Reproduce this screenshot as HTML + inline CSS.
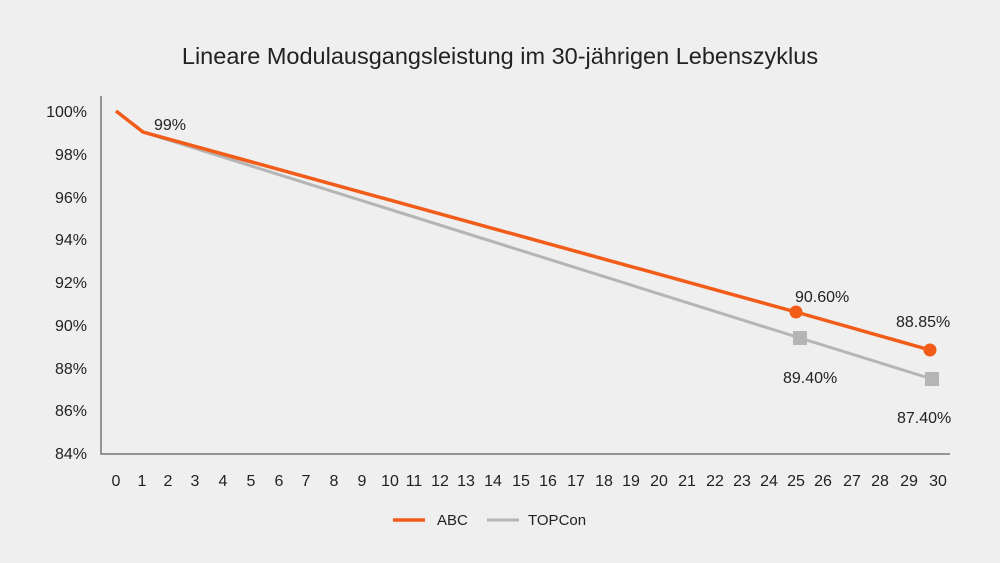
<!DOCTYPE html>
<html><head><meta charset="utf-8"><style>
html,body{margin:0;padding:0;background:#efefef;}
svg{display:block;font-family:"Liberation Sans",sans-serif;}
</style></head><body>
<svg width="1000" height="563" viewBox="0 0 1000 563">
<rect width="1000" height="563" fill="#efefef"/>
<text x="500" y="64" text-anchor="middle" font-size="23.5" fill="#222">Lineare Modulausgangsleistung im 30-jährigen Lebenszyklus</text>
<g font-size="16" fill="#222" text-anchor="end">
<text x="87" y="117">100%</text>
<text x="87" y="160">98%</text>
<text x="87" y="203">96%</text>
<text x="87" y="245">94%</text>
<text x="87" y="288">92%</text>
<text x="87" y="331">90%</text>
<text x="87" y="374">88%</text>
<text x="87" y="416">86%</text>
<text x="87" y="459">84%</text>
</g>
<polyline points="101,96 101,454 950,454" fill="none" stroke="#777" stroke-width="1.5"/>
<g font-size="16" fill="#222" text-anchor="middle">
<text x="116" y="486">0</text><text x="142" y="486">1</text><text x="168" y="486">2</text><text x="195" y="486">3</text><text x="223" y="486">4</text><text x="251" y="486">5</text><text x="279" y="486">6</text><text x="306" y="486">7</text><text x="334" y="486">8</text><text x="362" y="486">9</text><text x="390" y="486">10</text><text x="414" y="486">11</text><text x="440" y="486">12</text><text x="466" y="486">13</text><text x="493" y="486">14</text><text x="521" y="486">15</text><text x="548" y="486">16</text><text x="576" y="486">17</text><text x="604" y="486">18</text><text x="631" y="486">19</text><text x="659" y="486">20</text><text x="687" y="486">21</text><text x="715" y="486">22</text><text x="742" y="486">23</text><text x="769" y="486">24</text><text x="796" y="486">25</text><text x="823" y="486">26</text><text x="852" y="486">27</text><text x="880" y="486">28</text><text x="909" y="486">29</text><text x="938" y="486">30</text>
</g>
<polyline points="116,111 143,132 800,338 932,379" fill="none" stroke="#b5b5b5" stroke-width="3"/>
<polyline points="116,111 143,132 796,312 930,350" fill="none" stroke="#f25c19" stroke-width="3.5"/>
<rect x="793" y="331" width="14" height="14" fill="#b5b5b5"/>
<rect x="925" y="372" width="14" height="14" fill="#b5b5b5"/>
<circle cx="796" cy="312" r="6.5" fill="#f25c19"/>
<circle cx="930" cy="350" r="6.5" fill="#f25c19"/>
<g font-size="16" fill="#222">
<text x="154" y="130">99%</text>
<text x="795" y="302">90.60%</text>
<text x="896" y="327">88.85%</text>
<text x="783" y="383">89.40%</text>
<text x="897" y="423">87.40%</text>
</g>
<line x1="393" y1="520" x2="425" y2="520" stroke="#f25c19" stroke-width="3.5"/>
<text x="437" y="525" font-size="15" fill="#222">ABC</text>
<line x1="487" y1="520" x2="519" y2="520" stroke="#b5b5b5" stroke-width="3"/>
<text x="528" y="525" font-size="15" fill="#222">TOPCon</text>
</svg>
</body></html>
